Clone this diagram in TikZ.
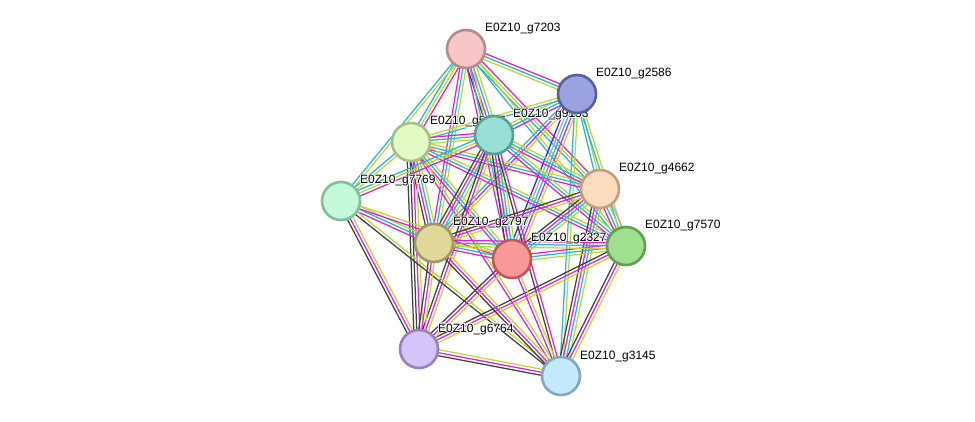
\documentclass[tikz,border=0pt]{standalone}
\usepackage{fontspec}
\setmainfont{Liberation Sans}
\usetikzlibrary{calc}
\pgfdeclarelayer{bg}
\pgfsetlayers{bg,main}

% evidence line colours
\definecolor{evcy}{HTML}{22B8D8}
\definecolor{evmg}{HTML}{E020E0}
\definecolor{evyl}{HTML}{C0D830}
\definecolor{evbk}{HTML}{404040}
\definecolor{evbl}{HTML}{2828F0}
\definecolor{evlp}{HTML}{A8A8F8}

\tikzset{
  gnode/.style={circle, minimum size=38pt, inner sep=0pt, line width=2.6pt},
  glab/.style={anchor=base west, inner sep=0pt, font=\fontsize{12}{12}\selectfont, text=black},
  cy/.style={draw=evcy, line width=1.25pt},
  mg/.style={draw=evmg, line width=1.25pt},
  yl/.style={draw=evyl, line width=1.25pt},
  bk/.style={draw=evbk, line width=1.25pt},
  bl/.style={draw=evbl, line width=1.25pt},
  lp/.style={draw=evlp, line width=1.25pt},
}

% one white copy of a label, shifted, for the halo
\newcommand\haloat[3]{\rlap{\kern#1\raisebox{#2}{\color{white}#3}}}
% label text with a thin white halo around it
\newcommand\halotext[1]{%
  \haloat{-0.9pt}{0pt}{#1}\haloat{0.9pt}{0pt}{#1}%
  \haloat{0pt}{-0.9pt}{#1}\haloat{0pt}{0.9pt}{#1}%
  \haloat{-0.7pt}{-0.7pt}{#1}\haloat{0.7pt}{0.7pt}{#1}%
  \haloat{-0.7pt}{0.7pt}{#1}\haloat{0.7pt}{-0.7pt}{#1}%
  #1}

% protein node with its label to the upper right
\newcommand\gene[5]{%
  \definecolor{fill#1}{HTML}{#4}%
  \definecolor{line#1}{HTML}{#5}%
  \node[gnode, fill=fill#1, draw=line#1] (n#1) at (#2,#3) {};
  \node[glab] (l#1) at (#2+19,#3-17) {\halotext{E0Z10\_g#1}};}

% bundle of parallel evidence lines between two nodes
\newcommand\sedge[4]{%
  \foreach \c [count=\i] in {#4}{%
    \pgfmathsetmacro\o{(\i-(#3+1)/2)*3}%
    \draw[\c] ($(#1)!\o pt!90:(#2)$) -- ($(#2)!\o pt!-90:(#1)$);}}

\begin{document}
\begin{tikzpicture}[x=1pt,y=-1pt]
\useasboundingbox (0,0) rectangle (975,422);

\gene{7203}{466}{49}{F8C6C6}{B88A8A}
\gene{5807}{411}{142}{E2FAC4}{A4C084}
\gene{9153}{494}{135}{98E0D6}{58A096}
\gene{2586}{577}{94}{9AA3E0}{5560A0}
\gene{7769}{341}{201}{C2FADA}{80C0A0}
\gene{2797}{434}{243}{E0D898}{A09860}
\gene{4662}{600}{189}{FDDCC0}{C0A080}
\gene{2327}{512}{259}{F89898}{C05858}
\gene{7570}{626}{246}{A0E090}{60A050}
\gene{6764}{419}{349}{D4C4F8}{9880C0}
\gene{3145}{561}{376}{C4E8FC}{80A8C0}

\begin{pgfonlayer}{bg}
\sedge{n7203}{n2586}{3}{yl,cy,mg}
\sedge{n7203}{n5807}{3}{cy,yl,mg}
\sedge{n7203}{n7769}{2}{cy,yl}
\sedge{n7203}{n9153}{4}{bk,mg,cy,yl}
\sedge{n7203}{n2797}{3}{mg,cy,yl}
\sedge{n7203}{n2327}{3}{mg,cy,yl}
\sedge{n7203}{n4662}{3}{cy,yl,mg}
\sedge{n7203}{n7570}{2}{cy,yl}
\sedge{n2586}{n9153}{3}{yl,cy,mg}
\sedge{n2586}{n5807}{2}{yl,cy}
\sedge{n2586}{n2327}{5}{bl,lp,cy,mg,yl}
\sedge{n2586}{n4662}{2}{cy,yl}
\sedge{n2586}{n7570}{2}{cy,yl}
\sedge{n2586}{n2797}{3}{cy,mg,yl}
\sedge{n2586}{n3145}{2}{cy,yl}
\sedge{n5807}{n9153}{3}{yl,cy,mg}
\sedge{n5807}{n7769}{2}{cy,yl}
\sedge{n5807}{n2797}{4}{bk,mg,cy,yl}
\sedge{n5807}{n2327}{3}{mg,cy,yl}
\sedge{n5807}{n4662}{3}{mg,cy,yl}
\sedge{n5807}{n7570}{3}{mg,cy,yl}
\sedge{n5807}{n6764}{4}{bk,bk,mg,yl}
\sedge{n5807}{n3145}{2}{mg,yl}
\sedge{n9153}{n7769}{3}{cy,yl,mg}
\sedge{n9153}{n2797}{4}{bk,mg,cy,yl}
\sedge{n9153}{n2327}{4}{bk,mg,cy,yl}
\sedge{n9153}{n4662}{3}{mg,cy,yl}
\sedge{n9153}{n7570}{3}{mg,cy,yl}
\sedge{n9153}{n6764}{3}{bk,mg,yl}
\sedge{n9153}{n3145}{2}{bk,mg}
\sedge{n4662}{n7570}{4}{mg,cy,yl,lp}
\sedge{n4662}{n2327}{4}{bk,mg,cy,yl}
\sedge{n4662}{n2797}{3}{bk,mg,yl}
\sedge{n4662}{n3145}{4}{bk,mg,cy,yl}
\sedge{n7769}{n2797}{3}{mg,cy,yl}
\sedge{n7769}{n2327}{2}{mg,yl}
\sedge{n7769}{n6764}{3}{bk,mg,yl}
\sedge{n7769}{n3145}{2}{bk,yl}
\sedge{n7570}{n2327}{3}{mg,cy,yl}
\sedge{n7570}{n2797}{3}{mg,cy,yl}
\sedge{n7570}{n6764}{3}{bk,mg,yl}
\sedge{n7570}{n3145}{3}{bk,mg,yl}
\sedge{n2797}{n2327}{3}{mg,cy,yl}
\sedge{n2797}{n6764}{3}{bk,mg,yl}
\sedge{n2797}{n3145}{3}{bk,mg,yl}
\sedge{n2327}{n6764}{3}{bk,mg,yl}
\sedge{n2327}{n3145}{2}{mg,yl}
\sedge{n6764}{n3145}{3}{bk,mg,yl}
\end{pgfonlayer}
\end{tikzpicture}
\end{document}
